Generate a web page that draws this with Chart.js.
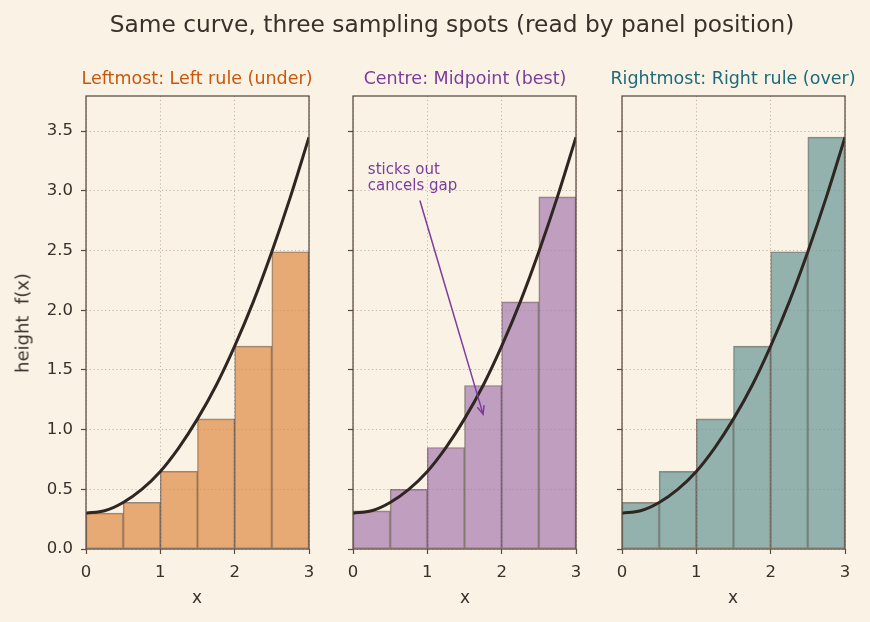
<!DOCTYPE html>
<html>
<head>
<meta charset="utf-8">
<script src="https://cdn.jsdelivr.net/npm/chart.js@4.4.1/dist/chart.umd.min.js"></script>
<style>
  body { margin: 0; background: #faf2e5; }
  #wrap { position: relative; width: 870px; height: 622px; font-family: "DejaVu Sans", sans-serif; color: #3a302a; }
  canvas { position: absolute; left: 0; top: 0; }
  .lbl { position: absolute; white-space: nowrap; }
</style>
</head>
<body>
<div id="wrap">
  <canvas id="c1" width="870" height="622"></canvas>
  <canvas id="c2" width="870" height="622"></canvas>
  <canvas id="c3" width="870" height="622"></canvas>
  <div class="lbl" style="left:452px;top:10px;font-size:23.3px;transform:translateX(-50%);">Same curve, three sampling spots (read by panel position)</div>
  <div class="lbl" style="left:197px;top:68px;font-size:17.5px;color:#c8570c;transform:translateX(-50%);">Leftmost: Left rule (under)</div>
  <div class="lbl" style="left:465px;top:68px;font-size:17.5px;color:#7b3c9c;transform:translateX(-50%);">Centre: Midpoint (best)</div>
  <div class="lbl" style="left:733px;top:68px;font-size:17.5px;color:#1d6b78;transform:translateX(-50%);">Rightmost: Right rule (over)</div>
  <div class="lbl" style="left:22px;top:323px;font-size:18px;transform:translate(-50%,-50%) rotate(-90deg);">height&nbsp; f(x)</div>
  <div class="lbl" style="left:197px;top:587px;font-size:17px;transform:translateX(-50%);">x</div>
  <div class="lbl" style="left:465px;top:587px;font-size:17px;transform:translateX(-50%);">x</div>
  <div class="lbl" style="left:733px;top:587px;font-size:17px;transform:translateX(-50%);">x</div>
</div>
<script>
// bar centres on x, six strips of width 0.5
const barX = [0.25, 0.75, 1.25, 1.75, 2.25, 2.75];
const leftHeights = [0.30, 0.39, 0.65, 1.09, 1.70, 2.49];
const midHeights = [0.32, 0.50, 0.85, 1.37, 2.07, 2.95];
const rightHeights = [0.39, 0.65, 1.09, 1.70, 2.49, 3.45];
// the curve f(x)
const curveX = [0, 0.25, 0.5, 0.75, 1, 1.25, 1.5, 1.75, 2, 2.25, 2.5, 2.75, 3];
const curveY = [0.30, 0.32, 0.39, 0.50, 0.65, 0.85, 1.09, 1.37, 1.70, 2.07, 2.49, 2.95, 3.45];
const xTicks = [0, 1, 2, 3];
const yTicks = [0, 0.5, 1, 1.5, 2, 2.5, 3, 3.5];

const ink = '#3a302a';
const frame = {
  id: 'frame',
  afterDatasetsDraw(chart) {
    const a = chart.chartArea;
    const c = chart.ctx;
    c.save();
    c.strokeStyle = '#5a4a3f';
    c.lineWidth = 1.25;
    c.strokeRect(a.left, a.top, a.right - a.left, a.bottom - a.top);
    c.restore();
  }
};

const arrow = {
  id: 'arrow',
  afterDatasetsDraw(chart) {
    if (!chart.options.plugins.arrow || !chart.options.plugins.arrow.on) return;
    const xs = chart.scales.x, ys = chart.scales.y;
    const c = chart.ctx;
    const x0 = xs.getPixelForValue(0.9), y0 = ys.getPixelForValue(2.92);
    const x1 = xs.getPixelForValue(1.75), y1 = ys.getPixelForValue(1.13);
    c.save();
    c.strokeStyle = '#7b3c9c';
    c.lineWidth = 1.5;
    c.beginPath(); c.moveTo(x0, y0); c.lineTo(x1, y1); c.stroke();
    const ang = Math.atan2(y1 - y0, x1 - x0);
    c.beginPath();
    c.moveTo(x1 - 9 * Math.cos(ang - 0.4), y1 - 9 * Math.sin(ang - 0.4));
    c.lineTo(x1, y1);
    c.lineTo(x1 - 9 * Math.cos(ang + 0.4), y1 - 9 * Math.sin(ang + 0.4));
    c.stroke();
    c.fillStyle = '#7b3c9c';
    c.font = '15px "DejaVu Sans"';
    c.textBaseline = 'alphabetic';
    const tx = xs.getPixelForValue(0.2), ty = ys.getPixelForValue(3.0);
    c.fillText('sticks out', tx, ty - 17);
    c.fillText('cancels gap', tx, ty - 1);
    c.restore();
  }
};

function panel(id, left, heights, fill, showY, note) {
  new Chart(document.getElementById(id), {
    type: 'bar',
    data: {
      datasets: [{
        type: 'line',
        data: curveX.map((x, i) => ({x: x, y: curveY[i]})),
        borderColor: '#2f2622',
        borderWidth: 3,
        pointRadius: 0,
        cubicInterpolationMode: 'monotone',
        order: 0
      }, {
        type: 'bar',
        data: barX.map((x, i) => ({x: x, y: heights[i]})),
        backgroundColor: fill,
        borderColor: 'rgba(60,45,40,0.55)',
        borderWidth: 1,
        borderSkipped: false,
        barPercentage: 1,
        categoryPercentage: 1,
        order: 1
      }]
    },
    options: {
      responsive: false,
      animation: false,
      layout: { padding: { left: left - 60, right: 870 - left - 223, top: 96, bottom: 23 } },
      plugins: { legend: { display: false }, tooltip: { enabled: false }, arrow: { on: note } },
      scales: {
        x: {
          type: 'linear', min: 0, max: 3, offset: false,
          afterFit: s => { s.height = 50; },
          afterBuildTicks: s => { s.ticks = xTicks.map(v => ({value: v})); },
          border: { display: false, dash: [1.2, 2.6] },
          grid: { offset: false, color: 'rgba(150,132,112,0.55)', tickColor: '#5a4a3f', tickBorderDash: [], tickLength: 5, tickWidth: 1.2 },
          ticks: { color: ink, font: { family: 'DejaVu Sans', size: 16.5 }, padding: 9, maxRotation: 0 }
        },
        y: {
          min: 0, max: 3.795,
          afterFit: s => { s.width = 60; },
          afterBuildTicks: s => { s.ticks = yTicks.map(v => ({value: v})); },
          border: { display: false, dash: [1.2, 2.6] },
          grid: { color: 'rgba(150,132,112,0.55)', tickColor: '#5a4a3f', tickBorderDash: [], tickLength: 5, tickWidth: 1.2 },
          ticks: {
            color: ink, font: { family: 'DejaVu Sans', size: 16.5 }, padding: 8,
            callback: v => showY ? v.toFixed(1) : ''
          }
        }
      }
    },
    plugins: [frame, arrow]
  });
}

panel('c1', 86, leftHeights, 'rgba(223,139,70,0.7)', true, false);
panel('c2', 353, midHeights, 'rgba(167,122,176,0.7)', false, true);
panel('c3', 622, rightHeights, 'rgba(104,151,150,0.7)', false, false);
</script>
</body>
</html>
